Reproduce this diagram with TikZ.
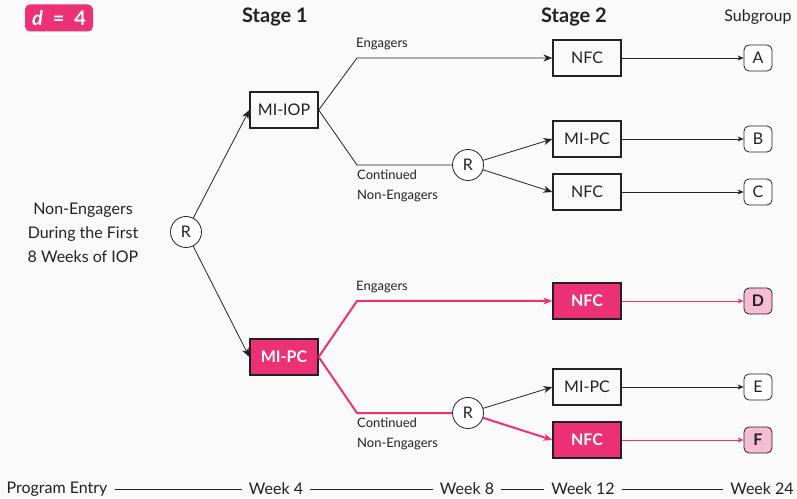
\documentclass[tikz,border=0pt]{standalone}
\usepackage{fontspec}
\setmainfont{Lato}
\usepackage{tikz}
\usetikzlibrary{positioning}
\usetikzlibrary{arrows.meta}
\definecolor{hot}{HTML}{EC3275}
\definecolor{hotlight}{HTML}{F4BDD2}
\definecolor{paper}{HTML}{FAFAFA}
\definecolor{ink}{HTML}{222222}
\tikzset{box/.style={draw=ink,line width=1.3pt,minimum width=68pt,minimum height=36pt,font=\fontsize{16}{18}\selectfont,text=ink}}
\tikzset{hotbox/.style={box,fill=hot,text=white,font=\fontsize{16}{18}\selectfont\bfseries}}
\tikzset{rand/.style={circle,draw=ink,line width=0.8pt,minimum size=31pt,inner sep=0pt,fill=white,font=\fontsize{16}{18}\selectfont,text=ink}}
\tikzset{sub/.style={draw=ink,line width=0.8pt,rounded corners=5pt,minimum width=28pt,minimum height=26pt,inner sep=0pt,fill=white,font=\fontsize{16}{18}\selectfont,text=ink}}
\tikzset{hotsub/.style={sub,fill=hotlight,font=\fontsize{16}{18}\selectfont\bfseries}}
\tikzset{lbl/.style={font=\fontsize{13}{20}\selectfont,text=ink,align=left,inner sep=0pt}}
\tikzset{tl/.style={font=\fontsize{16}{18}\selectfont,text=ink,inner sep=1pt}}

\begin{document}
\begin{tikzpicture}[x=1pt,y=1pt,>={Stealth[length=9pt,width=7pt]}]
\fill[paper] (0,0) rectangle (797,498);
\useasboundingbox (0,0) rectangle (797,498);
% headings
\node[fill=hot,text=white,rounded corners=5pt,minimum width=68pt,minimum height=27pt,font=\fontsize{20}{20}\selectfont\bfseries] (dval) at (59,480) {\textit{d}\enspace=\enspace4};
\node[font=\fontsize{20}{22}\selectfont\bfseries,text=ink] (st1) at (275,481) {Stage 1};
\node[font=\fontsize{20}{22}\selectfont\bfseries,text=ink] (st2) at (574,481) {Stage 2};
\node[font=\fontsize{16}{18}\selectfont,text=ink] (sgrp) at (758,481) {Subgroup};
\node[align=center,font=\fontsize{16}{24}\selectfont,text=ink] (start) at (83,265) {Non-Engagers\\During the First\\8 Weeks of IOP};
% stage 1
\node[rand] (r1) at (186,266) {R};
\node[box] (miiop) at (284,388) {MI-IOP};
\node[hotbox] (mipc) at (284,141) {MI-PC};
\draw[->,ink,line width=0.8pt] (r1) -- (miiop.west);
\draw[->,ink,line width=0.8pt] (r1) -- (mipc.west);
% stage 2, upper
\coordinate (upE) at (357,440);
\coordinate (upN) at (357,333);
\node[rand] (r2) at (468,333) {R};
\node[box] (nfca) at (587,440) {NFC};
\node[box] (mipcb) at (587,359) {MI-PC};
\node[box] (nfcc) at (587,306) {NFC};
\draw[->,ink,line width=0.8pt] (miiop.east) -- (upE) -- (nfca);
\draw[ink,line width=0.8pt] (miiop.east) -- (upN) -- (r2);
\draw[->,ink,line width=0.8pt] (r2) -- (mipcb.west);
\draw[->,ink,line width=0.8pt] (r2) -- (nfcc.west);
\node[lbl,anchor=west] (engA) at (356,454) {Engagers};
\node[lbl,anchor=north west] (contA) at (357,328) {Continued\\Non-Engagers};
% stage 2, lower
\coordinate (loE) at (357,197);
\coordinate (loN) at (357,85);
\node[rand] (r3) at (468,85) {R};
\node[hotbox] (nfcd) at (587,197) {NFC};
\node[box] (mipce) at (587,111) {MI-PC};
\node[hotbox] (nfcf) at (587,58) {NFC};
\draw[->,hot,line width=2pt] (mipc.east) -- (loE) -- (nfcd);
\draw[hot,line width=2pt] (mipc.east) -- (loN) -- (r3);
\draw[->,ink,line width=0.8pt] (r3) -- (mipce.west);
\draw[->,hot,line width=2pt] (r3) -- (nfcf.west);
\node[lbl,anchor=west] (engB) at (356,211) {Engagers};
\node[lbl,anchor=north west] (contB) at (357,80) {Continued\\Non-Engagers};
% subgroups
\node[sub] (sa) at (758,440) {A};
\node[sub] (sb) at (758,359) {B};
\node[sub] (sc) at (758,306) {C};
\node[hotsub] (sd) at (758,197) {D};
\node[sub] (se) at (758,111) {E};
\node[hotsub] (sf) at (758,58) {F};
\foreach \a/\b in {nfca/sa,mipcb/sb,nfcc/sc,mipce/se}
  \draw[->,>={Stealth[length=6pt,width=5pt]},ink,line width=0.6pt] (\a) -- (\b);
\foreach \a/\b in {nfcd/sd,nfcf/sf}
  \draw[->,>={Stealth[length=6pt,width=5pt]},hot,line width=0.8pt] (\a) -- (\b);
% timeline
\node[tl] (t0) at (57,9) {Program Entry};
\node[tl] (t4) at (276,9) {Week 4};
\node[tl] (t8) at (467,9) {Week 8};
\node[tl] (t12) at (583,9) {Week 12};
\node[tl] (t24) at (762,9) {Week 24};
\foreach \a/\b in {t0/t4,t4/t8,t8/t12,t12/t24}
  \draw[ink,line width=0.6pt,shorten <=6pt,shorten >=6pt] (\a) -- (\b);
\end{tikzpicture}
\end{document}
